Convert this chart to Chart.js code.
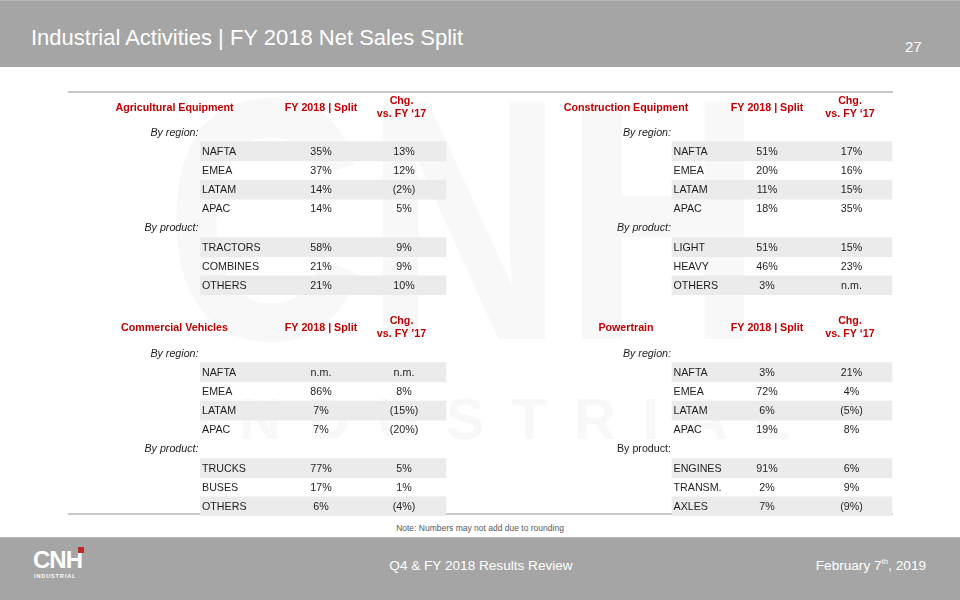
<!DOCTYPE html>
<html>
<head>
<meta charset="utf-8">
<script src="https://cdn.jsdelivr.net/npm/chart.js@4.4.1/dist/chart.umd.min.js"></script>
<style>
  html, body { margin:0; padding:0; background:#ffffff; }
  body { width:960px; height:600px; position:relative; overflow:hidden; font-family:"Liberation Sans", Arial, sans-serif; }
  .hdr { position:absolute; left:0; top:0; width:960px; height:67px; background:#a5a5a5; border-top:1px solid #b8b8b8; box-sizing:border-box; }
  .title { position:absolute; left:31px; top:23px; font-size:22px; line-height:30px; color:#ffffff; white-space:nowrap; }
  .pnum { position:absolute; left:905px; top:38px; font-size:15px; line-height:18px; color:#ffffff; }
  .ftr { position:absolute; left:0; top:537px; width:960px; height:63px; background:#a5a5a5; border-top:1px solid #b5b5b5; box-sizing:border-box; }
  .ftxt { position:absolute; top:557px; font-size:13.6px; line-height:18px; color:#ffffff; white-space:nowrap; }
  .ftxt sup { font-size:8px; vertical-align:6px; line-height:0; }
  .rule { position:absolute; left:68px; width:825px; height:2px; background:#c8c8c8; }
  .note { position:absolute; left:0; width:960px; top:522px; text-align:center; font-size:8.5px; line-height:12px; color:#595959; }
  .wm1 { position:absolute; left:165px; top:20px; font-size:345px; line-height:400px; font-weight:bold; color:#f8f8f8; transform:scaleX(0.8); transform-origin:0 0; white-space:nowrap; }
  .wm2 { position:absolute; left:196px; top:386px; font-size:58px; line-height:66px; font-weight:bold; color:#f8f8f8; letter-spacing:27px; white-space:nowrap; }
  .tbl { position:absolute; }
  .logo { position:absolute; left:33px; top:546px; width:52px; height:36px; }
  .logo .cnh { position:absolute; left:0; top:0; font-size:24px; line-height:28px; font-weight:bold; color:#fff; letter-spacing:-1px; }
  .logo .sq { position:absolute; left:45px; top:1px; width:6px; height:6px; background:#c0272d; }
  .logo .ind { position:absolute; left:1px; top:27px; font-size:5.5px; line-height:7px; font-weight:bold; color:#fff; letter-spacing:0.9px; }
</style>
</head>
<body>
<div class="wm1">CNH</div>
<div class="wm2">INDUSTRIAL</div>

<div class="hdr"></div>
<div class="title">Industrial Activities | FY 2018 Net Sales Split</div>
<div class="pnum">27</div>

<div class="rule" style="top:91px"></div>
<div class="rule" style="top:513px"></div>

<div class="tbl" id="w0" style="left:68px; top:92px; width:380px; height:203px;"><canvas id="c0"></canvas></div>
<div class="tbl" id="w1" style="left:490px; top:92px; width:404px; height:203px;"><canvas id="c1"></canvas></div>
<div class="tbl" id="w2" style="left:68px; top:312px; width:380px; height:204px;"><canvas id="c2"></canvas></div>
<div class="tbl" id="w3" style="left:490px; top:312px; width:404px; height:204px;"><canvas id="c3"></canvas></div>

<div class="note">Note: Numbers may not add due to rounding</div>

<div class="ftr"></div>
<div class="logo"><div class="cnh">CNH</div><div class="sq"></div><div class="ind">INDUSTRIAL</div></div>
<div class="ftxt" style="left:0; width:962px; text-align:center;">Q4 &amp; FY 2018 Results Review</div>
<div class="ftxt" style="right:34px;">February 7<sup>th</sup>, 2019</div>

<script>
// ---------------- DATA ----------------
const tableTitles = ['Agricultural Equipment', 'Construction Equipment', 'Commercial Vehicles', 'Powertrain'];
const splitHead = 'FY 2018 | Split';
const chgHead1 = 'Chg.';
const chgHead2 = ['vs. FY \u201817', 'vs. FY \u201817', 'vs. FY \u201917', 'vs. FY \u201817'];
const sectionLabels = ['By region:', 'By product:'];

const agriRows  = ['NAFTA', 'EMEA', 'LATAM', 'APAC', 'TRACTORS', 'COMBINES', 'OTHERS'];
const agriSplit = [35, 37, 14, 14, 58, 21, 21];
const agriChg   = [13, 12, -2, 5, 9, 9, 10];

const ceRows  = ['NAFTA', 'EMEA', 'LATAM', 'APAC', 'LIGHT', 'HEAVY', 'OTHERS'];
const ceSplit = [51, 20, 11, 18, 51, 46, 3];
const ceChg   = [17, 16, 15, 35, 15, 23, null];

const cvRows  = ['NAFTA', 'EMEA', 'LATAM', 'APAC', 'TRUCKS', 'BUSES', 'OTHERS'];
const cvSplit = [null, 86, 7, 7, 77, 17, 6];
const cvChg   = [null, 8, -15, -20, 5, 1, -4];

const ptRows  = ['NAFTA', 'EMEA', 'LATAM', 'APAC', 'ENGINES', 'TRANSM.', 'AXLES'];
const ptSplit = [3, 72, 6, 19, 91, 2, 7];
const ptChg   = [21, 4, -5, 8, 6, 9, -9];

// ---------------- LAYOUT (page x positions of columns) ----------------
const leftCols  = { min: 68,  max: 448, head: 174.5, section: 198.5, label: 202, bandL: 200.5, bandR: 446, fy: 321, chgHead: 401.5, chg: 404 };
const rightCols = { min: 490, max: 894, head: 626,   section: 671,   label: 673.5, bandL: 672, bandR: 892, fy: 767, chgHead: 850, chg: 851.5 };

const RED = '#c00000';
const TXT = '#1e1e1e';
const BAND = '#ebebeb';
const FONT = '"Liberation Sans", Arial, sans-serif';

function fmt(v) {
  if (v === null || v === undefined) return 'n.m.';
  if (v < 0) return '(' + Math.abs(v) + '%)';
  return v + '%';
}

function buildCategories(rows) {
  return [sectionLabels[0], rows[0], rows[1], rows[2], rows[3], sectionLabels[1], rows[4], rows[5], rows[6]];
}
function buildValues(arr) {
  return [undefined, arr[0], arr[1], arr[2], arr[3], undefined, arr[4], arr[5], arr[6]];
}
const sectionIdx = [0, 5];
const shadedIdx = [1, 3, 6, 8];

const tablePlugin = {
  id: 'tableText',
  afterDatasetsDraw(chart) {
    const o = chart.options.plugins.tableText;
    const ctx = chart.ctx;
    const xs = chart.scales.x, ys = chart.scales.y;
    const X = v => xs.getPixelForValue(v);
    const top = chart.chartArea.top;
    ctx.save();
    ctx.textBaseline = 'middle';
    // header
    ctx.fillStyle = RED;
    ctx.font = 'bold 10.7px ' + FONT;
    ctx.textAlign = 'center';
    ctx.fillText(o.title, X(o.cols.head), top - o.headOff);
    ctx.fillText(splitHead, X(o.cols.fy), top - o.headOff);
    ctx.fillText(chgHead1, X(o.cols.chgHead), top - o.headOff - 6.5);
    ctx.fillText(o.chgHead2, X(o.cols.chgHead), top - o.headOff + 6.5);
    // rows
    const cats = chart.data.labels;
    cats.forEach((lab, i) => {
      const y = ys.getPixelForValue(i) + 0.5;
      ctx.fillStyle = TXT;
      if (sectionIdx.includes(i)) {
        const italic = !(o.uprightProduct && i === 5);
        ctx.font = (italic ? 'italic ' : '') + '10.7px ' + FONT;
        ctx.textAlign = 'right';
        ctx.fillText(lab, X(o.cols.section), y);
      } else {
        ctx.font = '10.7px ' + FONT;
        ctx.textAlign = 'left';
        ctx.fillText(lab, X(o.cols.label), y);
        ctx.textAlign = 'center';
        ctx.fillText(fmt(o.split[i]), X(o.cols.fy), y);
        ctx.fillText(fmt(o.chg[i]), X(o.cols.chg), y);
      }
    });
    ctx.restore();
  }
};

function makeTable(canvasId, title, rows, split, chg, cols, headChg2, headOff, padTop, uprightProduct) {
  const labels = buildCategories(rows);
  const bands = labels.map((_, i) => shadedIdx.includes(i) ? [cols.bandL, cols.bandR] : null);
  new Chart(document.getElementById(canvasId), {
    type: 'bar',
    data: {
      labels: labels,
      datasets: [{
        data: bands,
        backgroundColor: BAND,
        borderWidth: 0,
        barPercentage: 1,
        categoryPercentage: 1
      }]
    },
    options: {
      indexAxis: 'y',
      responsive: true,
      maintainAspectRatio: false,
      animation: false,
      devicePixelRatio: 1,
      layout: { padding: { top: padTop, bottom: 0, left: 0, right: 0 } },
      scales: {
        x: { type: 'linear', min: cols.min, max: cols.max, display: false, grid: { display: false } },
        y: { type: 'category', offset: true, display: false, grid: { display: false } }
      },
      plugins: {
        legend: { display: false },
        tooltip: { enabled: false },
        tableText: {
          title: title, cols: cols, split: buildValues(split), chg: buildValues(chg),
          chgHead2: headChg2, headOff: headOff, uprightProduct: uprightProduct
        }
      }
    },
    plugins: [tablePlugin]
  });
}

makeTable('c0', tableTitles[0], agriRows, agriSplit, agriChg, leftCols,  chgHead2[0], 14.5, 30.5, false);
makeTable('c1', tableTitles[1], ceRows,   ceSplit,   ceChg,   rightCols, chgHead2[1], 14.5, 30.5, false);
makeTable('c2', tableTitles[2], cvRows,   cvSplit,   cvChg,   leftCols,  chgHead2[2], 15.5, 31.5, false);
makeTable('c3', tableTitles[3], ptRows,   ptSplit,   ptChg,   rightCols, chgHead2[3], 15.5, 31.5, true);
</script>
</body>
</html>
